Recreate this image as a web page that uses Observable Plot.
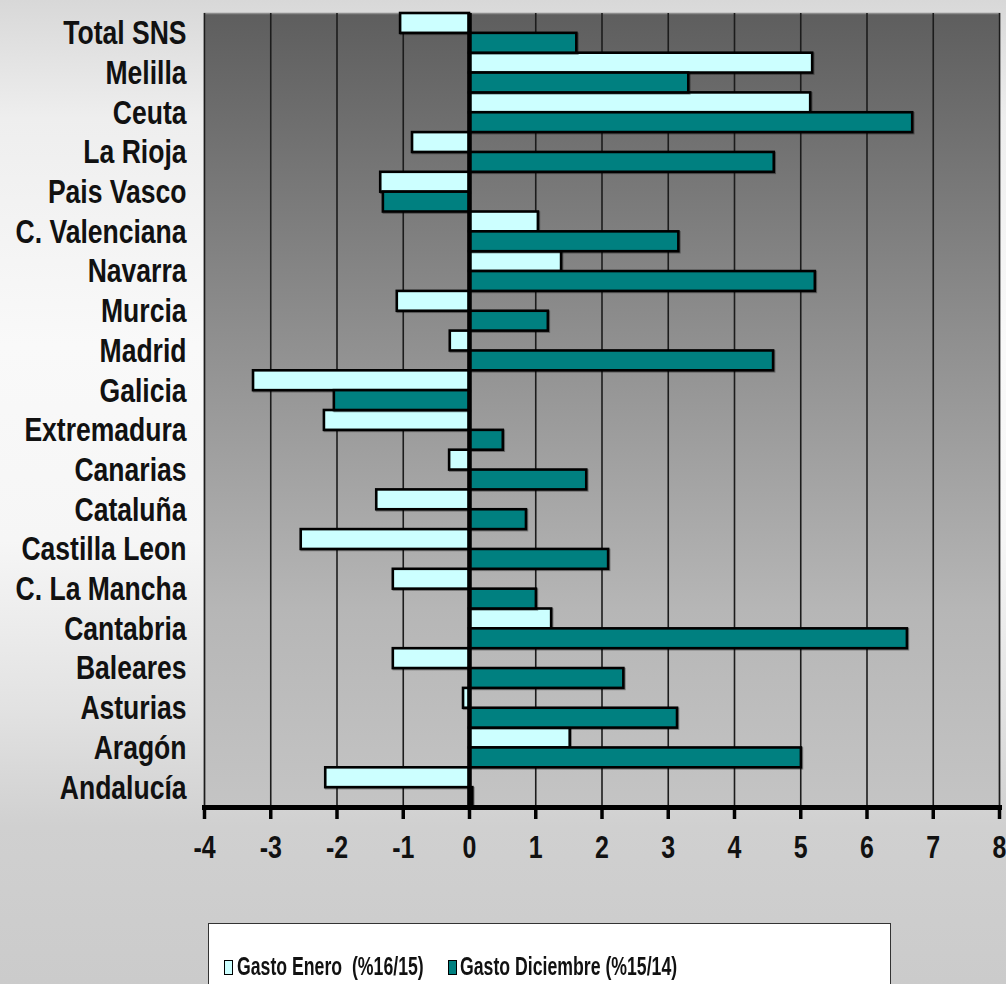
<!DOCTYPE html>
<html>
<head>
<meta charset="utf-8">
<script src="https://cdn.jsdelivr.net/npm/d3@7"></script>
<script src="https://cdn.jsdelivr.net/npm/@observablehq/plot@0.6"></script>
<style>
  html, body { margin: 0; padding: 0; }
  body {
    width: 1006px; height: 984px; overflow: hidden; position: relative;
    background: linear-gradient(to bottom, #d8d8d8 0%, #eeeeee 12%, #f9f9f9 35%, #f6f6f6 55%, #e2e2e2 72%, #d0d0d0 84%, #cbcbcb 100%);
    font-family: "Liberation Sans", Arial, sans-serif;
  }
  #chart { position: absolute; left: 0; top: 0; }
  #legend {
    position: absolute; left: 208px; top: 923px; width: 683px; height: 80px;
    background: #ffffff; border: 1.5px solid #333; box-sizing: border-box;
  }
  .sw { position: absolute; top: 36px; width: 9px; height: 15px; border: 1.5px solid #000; box-sizing: border-box; }
  .lt { position: absolute; top: 29px; font-size: 26px; line-height: 26px; font-weight: bold; color: #111;
        white-space: pre; transform: scaleX(0.68); transform-origin: left center; }
  g[aria-label="bar"] { filter: drop-shadow(1.5px 1.5px 0.6px rgba(0,0,0,0.35)); }
</style>
</head>
<body>
<div id="chart"></div>
<div id="legend"></div>
<script>
// ---- data ----
const categories = ["Total SNS","Melilla","Ceuta","La Rioja","Pais Vasco","C. Valenciana","Navarra","Murcia","Madrid","Galicia","Extremadura","Canarias","Cataluña","Castilla Leon","C. La Mancha","Cantabria","Baleares","Asturias","Aragón","Andalucía"];
const gastoEnero = [-1.04, 5.18, 5.15, -0.86, -1.34, 1.04, 1.39, -1.09, -0.29, -3.26, -2.19, -0.30, -1.40, -2.54, -1.15, 1.24, -1.15, -0.09, 1.52, -2.17];
const gastoDiciembre = [1.62, 3.31, 6.69, 4.60, -1.30, 3.16, 5.22, 1.19, 4.59, -2.04, 0.51, 1.77, 0.86, 2.10, 1.01, 6.61, 2.33, 3.14, 5.01, 0.05];
const xTicks = [-4, -3, -2, -1, 0, 1, 2, 3, 4, 5, 6, 7, 8];
const seriesNames = ["Gasto Enero  (%16/15)", "Gasto Diciembre (%15/14)"];
const seriesColors = ["#ccffff", "#008080"];

const enero = categories.map((c, i) => ({cat: c, value: gastoEnero[i]}));
const dic = categories.map((c, i) => ({cat: c, value: gastoDiciembre[i]}));

const W = 1006, H = 915, mTop = 13, mBottom = 108, mLeft = 204, mRight = 7;
const half = (H - mTop - mBottom) / categories.length / 2;

const defs = () => {
  const d = d3.create("svg:defs");
  const g = d.append("linearGradient").attr("id", "plotbg").attr("x1", 0).attr("y1", 0).attr("x2", 0).attr("y2", 1);
  g.append("stop").attr("offset", "0%").attr("stop-color", "#5e5e5e");
  g.append("stop").attr("offset", "40%").attr("stop-color", "#8e8e8e");
  g.append("stop").attr("offset", "75%").attr("stop-color", "#b6b6b6");
  g.append("stop").attr("offset", "100%").attr("stop-color", "#c4c4c4");
  return d.node();
};

const chart = Plot.plot({
  width: W, height: H,
  marginTop: mTop, marginBottom: mBottom, marginLeft: mLeft, marginRight: mRight,
  style: {background: "transparent", fontFamily: "'Liberation Sans', Arial, sans-serif", overflow: "visible"},
  x: {domain: [-4, 8]},
  y: {domain: categories, padding: 0, round: false},
  marks: [
    defs,
    Plot.frame({fill: "url(#plotbg)", stroke: "#8c8c8c", strokeWidth: 1.5}),
    Plot.ruleX(xTicks, {stroke: "#1c1c1c", strokeWidth: 1.6}),
    Plot.barX(enero, {x: "value", y: "cat", fill: seriesColors[0], stroke: "#000", strokeWidth: 2.6, insetBottom: half}),
    Plot.barX(dic, {x: "value", y: "cat", fill: seriesColors[1], stroke: "#000", strokeWidth: 2.6, insetTop: half}),
    Plot.ruleX([0], {stroke: "#000", strokeWidth: 4.5}),
    Plot.frame({anchor: "bottom", stroke: "#000", strokeWidth: 5}),
    Plot.axisX({ticks: xTicks, tickFormat: d => String(d), tickSize: 12, tickPadding: 16, strokeWidth: 3.5,
      fontSize: 32, fontWeight: "bold", fill: "#111", label: null}),
    Plot.axisY({tickSize: 0, tickPadding: 18, fontSize: 34, fontWeight: "bold", fill: "#111", label: null})
  ]
});

document.getElementById("chart").appendChild(chart);

// condense axis text (the original uses a narrow bold face): scale around each text's own anchor
d3.select(chart).selectAll('g[aria-label="y-axis tick label"] text, g[aria-label="x-axis tick label"] text').each(function() {
  const x = parseFloat(this.getAttribute("x")) || 0;
  const t = this.getAttribute("transform") || "";
  this.setAttribute("transform", `${t} translate(${x},0) scale(0.78,1) translate(${-x},0)`);
});

// legend
const legend = d3.select("#legend");
const swX = [15, 239], txX = [28, 251];
seriesNames.forEach((name, i) => {
  legend.append("div").attr("class", "sw").style("left", swX[i] + "px").style("background", seriesColors[i]);
  legend.append("div").attr("class", "lt").style("left", txX[i] + "px").text(name);
});
</script>
</body>
</html>
